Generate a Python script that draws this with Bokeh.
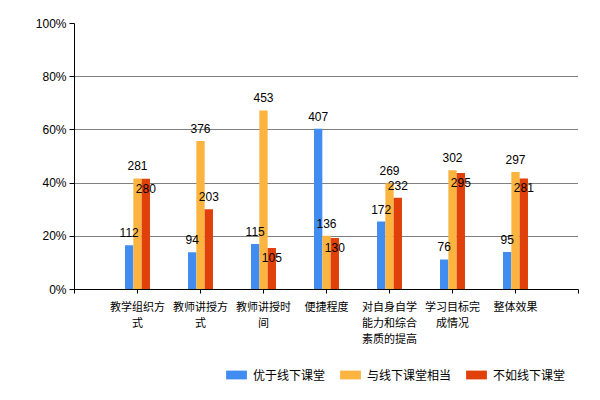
from bokeh.plotting import figure
from bokeh.layouts import column
from bokeh.models import Range1d, FixedTicker, Legend, LegendItem, ColumnDataSource, NumeralTickFormatter
from bokeh.embed import file_html
from bokeh.resources import INLINE
from bokeh.core.properties import value

categories = ["教学组织方\n式", "教师讲授方\n式", "教师讲授时\n间", "便捷程度",
              "对自身自学\n能力和综合\n素质的提高", "学习目标完\n成情况", "整体效果"]
series_names = ["优于线下课堂", "与线下课堂相当", "不如线下课堂"]
better = [112, 94, 115, 407, 172, 76, 95]
same = [281, 376, 453, 136, 269, 302, 297]
worse = [280, 203, 105, 130, 232, 295, 281]
y_ticks = [0, 0.2, 0.4, 0.6, 0.8, 1.0]

colors = ["#418CF0", "#FCB441", "#E0400A"]
series = [better, same, worse]
n = len(categories)
totals = [better[i] + same[i] + worse[i] for i in range(n)]

FW, FH = 504, 266
BW = 0.132
offsets = [-BW, 0.0, BW]
CJK = "Noto Sans CJK SC"

p = figure(width=592, height=350, output_backend="svg", toolbar_location=None,
           x_range=Range1d(-1, n), y_range=Range1d(0, 1),
           min_border_left=74, min_border_right=14, min_border_top=23, min_border_bottom=61)
p.outline_line_color = None
p.background_fill_color = "white"

for s, vals in enumerate(series):
    src = ColumnDataSource(dict(x=[i + offsets[s] for i in range(n)],
                                top=[vals[i] / totals[i] for i in range(n)]))
    p.vbar(x="x", top="top", bottom=0, width=BW, source=src,
           fill_color=colors[s], line_color=None)

# data labels
px_x = FW / (n + 1)
lx, ly, lt = [], [], []
for i in range(n):
    placed = []
    for s, vals in enumerate(series):
        v = vals[i] / totals[i]
        x = i + offsets[s]
        y_up = v + 12.5 / FH
        ok = all(not (abs(x - qx) * px_x < 19 and abs(y_up - qy) * FH < 12) for qx, qy in placed)
        y = y_up if ok else v - 9.5 / FH
        placed.append((x, y))
        lx.append(x); ly.append(y); lt.append(str(vals[i]))
p.text(x=lx, y=ly, text=lt, text_align="center", text_baseline="middle",
       text_font=value("Liberation Sans"), text_font_size="12px", text_color="black")

# axes
p.xaxis.ticker = FixedTicker(ticks=list(range(-1, n + 1)))
p.xaxis.major_label_overrides = {**{i: categories[i] for i in range(n)}, -1: "", n: ""}
p.xaxis.major_label_text_font = CJK
p.xaxis.major_label_text_font_size = "11px"
p.xaxis.major_label_text_line_height = 1.0
p.xaxis.major_label_text_color = "black"
p.xaxis.major_tick_out = 4
p.xaxis.major_tick_in = 0
p.xaxis.minor_tick_line_color = None
p.xaxis.major_label_standoff = 4
p.xaxis.axis_line_color = "black"
p.xaxis.major_tick_line_color = "black"

p.yaxis.ticker = FixedTicker(ticks=y_ticks)
p.yaxis.formatter = NumeralTickFormatter(format="0%")
p.yaxis.major_label_text_font = "Liberation Sans"
p.yaxis.major_label_text_font_size = "12px"
p.yaxis.major_label_text_color = "black"
p.yaxis.major_tick_out = 5
p.yaxis.major_tick_in = 0
p.yaxis.minor_tick_line_color = None
p.yaxis.major_label_standoff = 3
p.yaxis.axis_line_color = "black"
p.yaxis.major_tick_line_color = "black"

p.xgrid.grid_line_color = None
p.ygrid.grid_line_color = "black"
p.ygrid.grid_line_dash = "1 1"
p.ygrid.grid_line_width = 1

# legend strip below the chart
lg = figure(width=592, height=42, output_backend="svg", toolbar_location=None,
            x_range=Range1d(0, 1), y_range=Range1d(0, 1),
            min_border_left=0, min_border_right=0, min_border_top=0, min_border_bottom=0)
lg.outline_line_color = None
lg.axis.visible = False
lg.grid.visible = False
dummies = [lg.vbar(x=[-10], top=[-5], bottom=[-6], width=0.1, fill_color=colors[s], line_color=None)
           for s in range(3)]
legend = Legend(items=[LegendItem(label=series_names[s], renderers=[dummies[s]]) for s in range(3)],
                orientation="horizontal", location=(149, 9),
                glyph_width=26, glyph_height=11, label_standoff=4, spacing=12,
                padding=0, margin=0, border_line_color=None, background_fill_alpha=0,
                label_text_font=CJK, label_text_font_size="12px", label_text_color="black")
lg.add_layout(legend, "center")

layout = column(p, lg, spacing=0)
open("out.html", "w").write(file_html(layout, INLINE))
